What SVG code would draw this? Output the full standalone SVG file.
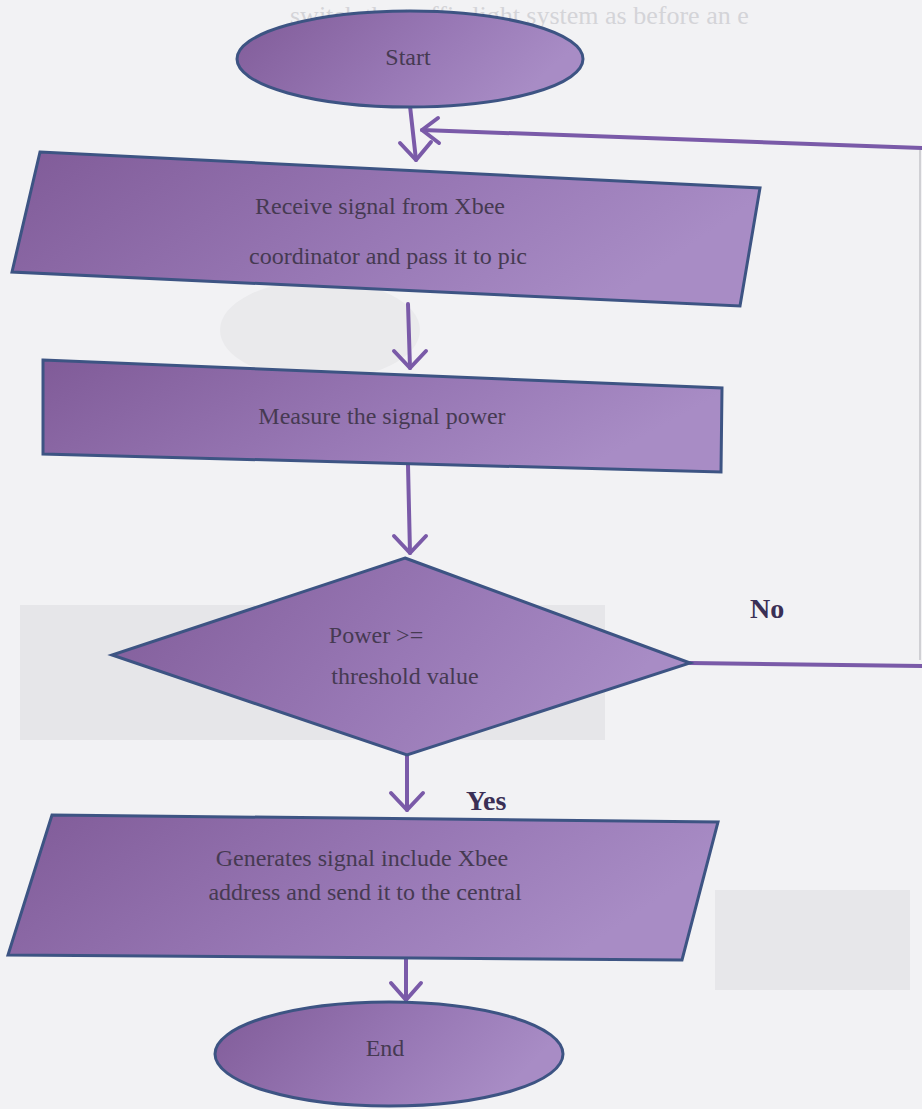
<svg xmlns="http://www.w3.org/2000/svg" width="922" height="1109" viewBox="0 0 922 1109">
<defs>
<linearGradient id="g" x1="0" y1="0" x2="1" y2="0.3">
<stop offset="0" stop-color="#805b98"/>
<stop offset="0.6" stop-color="#9878b5"/>
<stop offset="1" stop-color="#a88cc5"/>
</linearGradient>
<style>
.node{fill:url(#g);stroke:#3d5483;stroke-width:3;}
.lbl{font-family:"Liberation Serif","Times New Roman",serif;font-size:24px;fill:#463a52;text-anchor:middle;}
.edge{fill:none;stroke:#7a5aa8;stroke-width:4;stroke-linecap:round;stroke-linejoin:round;}
.tag{font-family:"Liberation Serif","Times New Roman",serif;font-size:28px;font-weight:bold;fill:#3a2f55;}
</style>
</defs>
<rect x="0" y="0" width="922" height="1109" fill="#f2f2f4"/>
<g id="background">
<rect x="20" y="605" width="585" height="135" fill="#e6e6e9"/>
<rect x="715" y="890" width="195" height="100" fill="#e7e7ea"/>
<ellipse cx="320" cy="330" rx="100" ry="50" fill="#eaeaec"/>
<line x1="920" y1="150" x2="920" y2="660" stroke="#c4c4ca" stroke-width="1.5"/>
<text x="290" y="24" font-family="Liberation Serif, serif" font-size="26" fill="#d4d4d8">switch the traffic light system as before an e</text>
</g>
<g id="connectors">
<path class="edge" d="M410,106 L416,160"/>
<path class="edge" d="M400,143 L416,160 L431,142"/>
<path class="edge" d="M922,148 L422,130"/>
<path class="edge" d="M438,118 L422,130 L439,143"/>
<path class="edge" d="M408,304 L410,368"/>
<path class="edge" d="M394,351 L410,368 L426,351"/>
<path class="edge" d="M408,465 L410,553"/>
<path class="edge" d="M394,536 L410,553 L426,536"/>
<path class="edge" d="M690,663 L922,666"/>
<path class="edge" d="M407,752 L407,810"/>
<path class="edge" d="M391,793 L407,810 L423,793"/>
<path class="edge" d="M406,958 L406,1000"/>
<path class="edge" d="M391,983 L406,1000 L421,983"/>
<text class="tag" x="750" y="618">No</text>
<text class="tag" x="466" y="810">Yes</text>
</g>
<g id="start">
<ellipse class="node" cx="410" cy="59" rx="173" ry="48"/>
<text class="lbl" x="408" y="65">Start</text>
</g>
<g id="receive">
<polygon class="node" points="40,152 760,188 740,306 12,272"/>
<text class="lbl" x="380" y="214">Receive signal from Xbee</text>
<text class="lbl" x="388" y="264">coordinator and pass it to pic</text>
</g>
<g id="measure">
<polygon class="node" points="43,360 722,388 721,472 43,454"/>
<text class="lbl" x="382" y="424">Measure the signal power</text>
</g>
<g id="decision">
<polygon class="node" points="405,558 690,663 407,755 112,655"/>
<text class="lbl" x="376" y="643">Power &gt;=</text>
<text class="lbl" x="405" y="684">threshold value</text>
</g>
<g id="generate">
<polygon class="node" points="52,815 718,822 682,960 8,955"/>
<text class="lbl" x="362" y="866">Generates signal include Xbee</text>
<text class="lbl" x="365" y="900">address and send it to the central</text>
</g>
<g id="end">
<ellipse class="node" cx="389" cy="1054" rx="174" ry="52"/>
<text class="lbl" x="385" y="1056">End</text>
</g>
</svg>
